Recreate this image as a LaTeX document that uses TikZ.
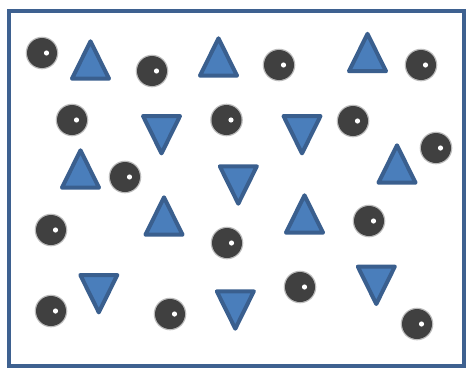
\documentclass[tikz,border=0pt]{standalone}
\definecolor{frameblue}{HTML}{3E6190}
\definecolor{trifill}{HTML}{4A7EBB}
\definecolor{triline}{HTML}{3A5F8E}
\definecolor{ballgray}{HTML}{404040}
\tikzset{
  frame/.style={draw=frameblue, line width=4pt},
  tri/.style={fill=trifill, draw=triline, line width=4pt, line join=round},
  ball/.style={fill=ballgray},
  ballhalo/.style={fill=ballgray, opacity=0.35},
  dot/.style={fill=white}
}
\begin{document}
\begin{tikzpicture}[x=1pt,y=-1pt]
\useasboundingbox (0,0) rectangle (466,367);
\fill[white] (0,0) rectangle (466,367);
\draw[frame] (9,11) rectangle (463.5,365.5);
% up triangles
\foreach \cx/\cy in {90.5/60, 218.5/57, 367.5/52.5, 80.5/169, 397/164, 164/216, 304.5/214}{
  \draw[tri] (\cx,\cy-18.7) -- (\cx+18.5,\cy+18.7) -- (\cx-18.5,\cy+18.7) -- cycle;
}
% down triangles
\foreach \cx/\cy in {161.5/134.7, 302/134.7, 238.3/185, 98.8/293.7, 376.3/285.3, 235.3/310}{
  \draw[tri] (\cx,\cy+18.7) -- (\cx+18.5,\cy-18.7) -- (\cx-18.5,\cy-18.7) -- cycle;
}
% balls
\foreach \cx/\cy in {42/53, 152/71, 279/65, 421/65, 72/120, 226.5/120, 353/121, 436/148, 125/177, 51/230, 227/243, 369/221, 51/311, 170/314, 300/287, 417/324}{
  \fill[ballhalo] (\cx,\cy) circle (16.3);
  \fill[ball] (\cx,\cy) circle (15);
  \fill[dot] (\cx+4.5,\cy) circle (2.6);
}
\end{tikzpicture}
\end{document}
